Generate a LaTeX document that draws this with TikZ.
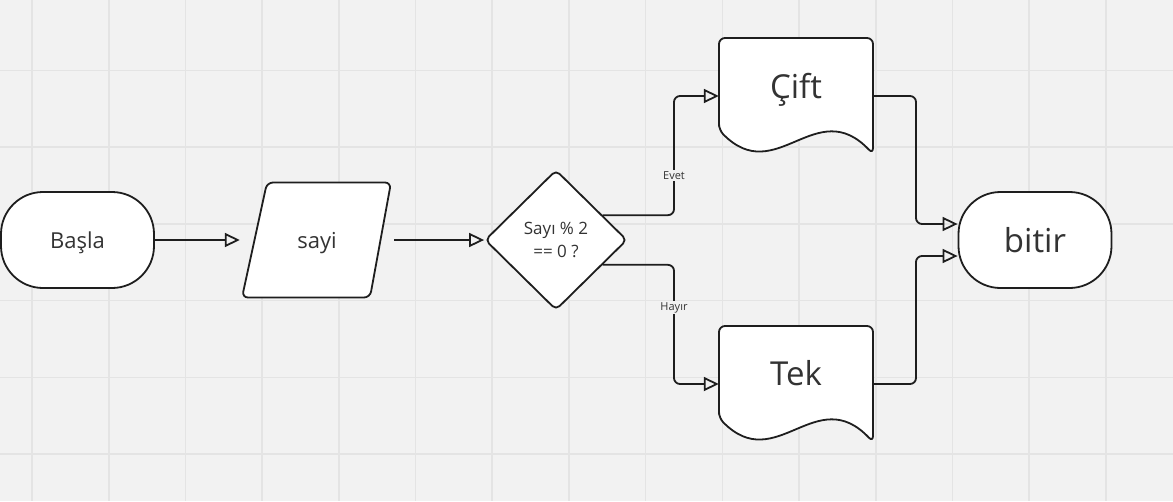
\documentclass[tikz,border=0pt]{standalone}
\usepackage{fontspec}
\setmainfont{Open Sans}
\usetikzlibrary{shapes.misc,shapes.geometric,arrows.meta}
\definecolor{bg}{HTML}{F2F2F2}
\definecolor{gridc}{HTML}{E4E4E4}
\definecolor{ink}{HTML}{1E1E1E}
\definecolor{txtc}{HTML}{333333}
\tikzset{
  shapeline/.style={draw=ink, line width=1.8pt, fill=white},
  terminal/.style={rectangle, rounded corners=42pt, shapeline, minimum width=153pt, minimum height=96pt, inner sep=0pt},
  hiddenbox/.style={rectangle, inner sep=0pt, draw=none, minimum width=154pt, minimum height=116pt},
  decision/.style={diamond, shapeline, minimum width=142pt, minimum height=140pt, inner sep=0pt, rounded corners=5pt},
  conn/.style={draw=ink, line width=1.8pt, rounded corners=6pt, -{Triangle[open, length=15pt, width=14pt, line width=1.8pt]}},
  midtxt/.style={text=txtc, font=\fontsize{22}{26}\selectfont, inner sep=0pt, anchor=base},
  bigtxt/.style={text=txtc, font=\fontsize{33}{40}\selectfont, inner sep=0pt, anchor=base},
  smalltxt/.style={text=txtc, font=\fontsize{17}{23}\selectfont, inner sep=0pt, anchor=base},
  lbl/.style={text=txtc, font=\fontsize{11}{13}\selectfont, fill=bg, inner sep=1.5pt, anchor=base},
  gridline/.style={draw=gridc, line width=1.6pt},
}
\begin{document}
\begin{tikzpicture}[x=1pt,y=-1pt]
\useasboundingbox (0,0) rectangle (1173,501);
\fill[bg] (0,0) rectangle (1173,501);
\foreach \i in {0,...,14} \draw[gridline] ({32+76.7*\i},0) -- ({32+76.7*\i},501);
\foreach \j in {0,...,5} \draw[gridline] (0,{70.5+76.7*\j}) -- (1173,{70.5+76.7*\j});

% start
\node[terminal] (basla) at (77.5,240) {};
\node[midtxt] (baslat) at ([yshift=-8.3pt]basla.center) {Başla};

% input
\node[hiddenbox] (sayi) at (317,240) {};
\begin{scope}[shift={(sayi.center)}]
\draw[shapeline, rounded corners=6pt] (-50,-57.5) -- (74,-57.5) -- (53,57.5) -- (-75,57.5) -- cycle;
\end{scope}
\node[midtxt] (sayit) at ([yshift=-8.5pt]sayi.center) {sayi};

% decision
\node[decision] (dec) at (556,240) {};
\node[smalltxt] (dect1) at ([yshift=5.3pt]dec.center) {Sayı \% 2};
\node[smalltxt] (dect2) at ([yshift=-17.7pt]dec.center) {== 0 ?};

% documents
\node[hiddenbox] (cift) at (796,96) {};
\begin{scope}[shift={(cift.center)}]
\draw[shapeline, rounded corners=6pt] (-77,34) -- (-77,-58) -- (77,-58) -- (77,58) .. controls (20,-2) and (-20,92) .. (-77,34) -- cycle;
\end{scope}
\node[bigtxt] (ciftt) at ([yshift=-2.3pt]cift.center) {Çift};

\node[hiddenbox] (tek) at (796,384) {};
\begin{scope}[shift={(tek.center)}]
\draw[shapeline, rounded corners=6pt] (-77,34) -- (-77,-58) -- (77,-58) -- (77,58) .. controls (20,-2) and (-20,92) .. (-77,34) -- cycle;
\end{scope}
\node[bigtxt] (tekt) at ([yshift=-1pt]tek.center) {Tek};

% end
\node[terminal] (bitir) at (1035,240) {};
\node[bigtxt] (bitirt) at ([yshift=-12.7pt]bitir.center) {bitir};

% connectors
\coordinate (ex) at (674,0);
\coordinate (jx) at (916,0);
\coordinate (in1) at (0,224);
\coordinate (in2) at (0,256);

\draw[conn] (basla.east) -- (sayi.west);
\draw[conn] (sayi.east) -- (dec.west);
\draw[conn] (dec.28) -- (dec.28 -| ex) -- (ex |- cift.west) -- (cift.west);
\draw[conn] (dec.-28) -- (dec.-28 -| ex) -- (ex |- tek.west) -- (tek.west);
\draw[conn] (cift.east) -- (cift.east -| jx) -- (jx |- in1) -- (in1 -| bitir.west);
\draw[conn] (tek.east) -- (tek.east -| jx) -- (jx |- in2) -- (in2 -| bitir.west);

\node[lbl] (evet) at (674,179) {Evet};
\node[lbl] (hayir) at (674,310) {Hayır};
\end{tikzpicture}
\end{document}
